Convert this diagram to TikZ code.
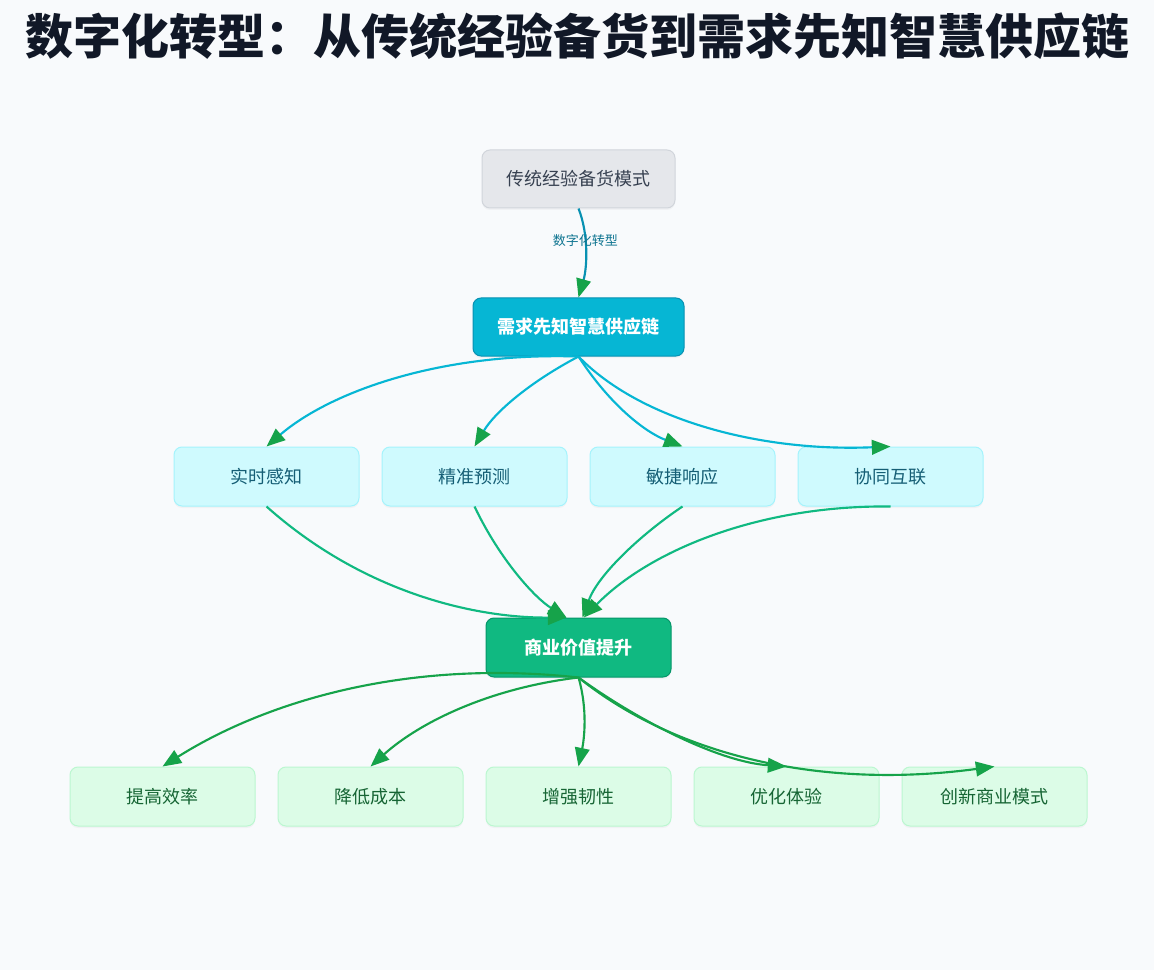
\documentclass[tikz,border=0pt]{standalone}
\usepackage{fontspec}
\setmainfont{Noto Sans CJK SC}
\usepackage{tikz}
\usetikzlibrary{arrows.meta, positioning, shadows}

\definecolor{pagebg}{RGB}{248,250,252}
\definecolor{titletext}{RGB}{17,24,39}
\definecolor{legacyfill}{RGB}{229,231,235}
\definecolor{legacyline}{RGB}{209,213,219}
\definecolor{legacytext}{RGB}{55,65,81}
\definecolor{hubfill}{RGB}{6,182,212}
\definecolor{hubline}{RGB}{8,145,178}
\definecolor{pillarfill}{RGB}{207,250,254}
\definecolor{pillarline}{RGB}{165,243,252}
\definecolor{pillartext}{RGB}{21,94,117}
\definecolor{valuefill}{RGB}{16,185,129}
\definecolor{valueline}{RGB}{5,150,105}
\definecolor{gainfill}{RGB}{220,252,231}
\definecolor{gainline}{RGB}{187,247,208}
\definecolor{gaintext}{RGB}{22,101,52}
\definecolor{shiftline}{RGB}{8,145,178}
\definecolor{shifttext}{RGB}{14,116,144}
\definecolor{pillarflow}{RGB}{6,182,212}
\definecolor{valueflow}{RGB}{16,185,129}
\definecolor{gainflow}{RGB}{22,163,74}
\definecolor{tipgreen}{RGB}{22,163,74}

\begin{document}
\begin{tikzpicture}[
    x=0.75pt, y=-0.75pt,
    % Styles
    basebox/.style={draw, line width=0.75pt, rounded corners=6pt, minimum width=138.75pt, minimum height=44.25pt,
                    font=\fontsize{13.5}{16}\selectfont, inner sep=2pt,
                    drop shadow={shadow xshift=0pt, shadow yshift=-1.5pt, opacity=0.06}},
    legacybox/.style={basebox, fill=legacyfill, draw=legacyline, text=legacytext, minimum width=144.75pt, minimum height=43.5pt},
    hubbox/.style={basebox, fill=hubfill, draw=hubline, text=white, minimum width=158.25pt, minimum height=43.5pt,
                   font=\fontsize{13.5}{16}\selectfont\bfseries},
    pillarbox/.style={basebox, fill=pillarfill, draw=pillarline, text=pillartext},
    valuebox/.style={basebox, fill=valuefill, draw=valueline, text=white, font=\fontsize{13.5}{16}\selectfont\bfseries},
    gainbox/.style={basebox, fill=gainfill, draw=gainline, text=gaintext},
    flow/.style={line width=1.6pt, -{Triangle[length=14pt, width=11pt, color=tipgreen]}},
    node distance=16.5pt
]
    % Page background
    \useasboundingbox (0,0) rectangle (1154,970);
    \fill[pagebg] (0,0) rectangle (1154,970);

    % Title
    \node[font=\fontsize{36}{40}\selectfont\bfseries, text=titletext] (title) at (578,36) {数字化转型：从传统经验备货到需求先知智慧供应链};

    % Old mode and new supply chain
    \node[legacybox] (legacy) at (578.5,179) {传统经验备货模式};
    \node[hubbox] (hub) at (578.5,327) {需求先知智慧供应链};

    % Capability row
    \node[pillarbox] (sense) at (266.5,476.5) {实时感知};
    \node[pillarbox, right=of sense] (forecast) {精准预测};
    \node[pillarbox, right=of forecast] (respond) {敏捷响应};
    \node[pillarbox, right=of respond] (connect) {协同互联};

    % Business value
    \node[valuebox] (value) at (578.5,647.5) {商业价值提升};

    % Outcome row
    \node[gainbox] (efficiency) at (162.5,796.5) {提高效率};
    \node[gainbox, right=of efficiency] (cost) {降低成本};
    \node[gainbox, right=of cost] (resilience) {增强韧性};
    \node[gainbox, right=of resilience] (experience) {优化体验};
    \node[gainbox, right=of experience] (innovation) {创新商业模式};

    % Transformation arrow
    \draw[flow, shiftline] (legacy.south) .. controls (589,235) and (587,268) .. (hub.north)
        node[pos=0.38, font=\fontsize{9.75}{11}\selectfont, text=shifttext] {数字化转型};

    % Hub to capabilities
    \draw[flow, pillarflow] (hub.south) .. controls (440,352) and (330,392) .. (sense.north);
    \draw[flow, pillarflow] (hub.south) .. controls (530,382) and (495,412) .. (forecast.north);
    \draw[flow, pillarflow] (hub.south) .. controls (610,405) and (645,432) .. (respond.north);
    \draw[flow, pillarflow] (hub.south) .. controls (640,420) and (760,452) .. (connect.north);

    % Capabilities to value
    \draw[flow, valueflow] (sense.south) .. controls (360,590) and (470,618) .. ([xshift=-9pt]value.north);
    \draw[flow, valueflow] (forecast.south) .. controls (500,560) and (535,598) .. ([xshift=-9pt]value.north);
    \draw[flow, valueflow] (respond.south) .. controls (640,535) and (598,575) .. ([xshift=3pt]value.north);
    \draw[flow, valueflow] (connect.south) .. controls (760,505) and (650,550) .. ([xshift=4pt]value.north);

    % Value to outcomes
    \draw[flow, gainflow] (value.south) .. controls (400,658) and (260,705) .. (efficiency.north);
    \draw[flow, gainflow] (value.south) .. controls (490,688) and (420,722) .. (cost.north);
    \draw[flow, gainflow] (value.south) .. controls (588,710) and (584,740) .. (resilience.north);
    \draw[flow, gainflow] (value.south) .. controls (640,722) and (720,762) .. (experience.north);
    \draw[flow, gainflow] (value.south) .. controls (675,755) and (820,790) .. (innovation.north);
\end{tikzpicture}
\end{document}
